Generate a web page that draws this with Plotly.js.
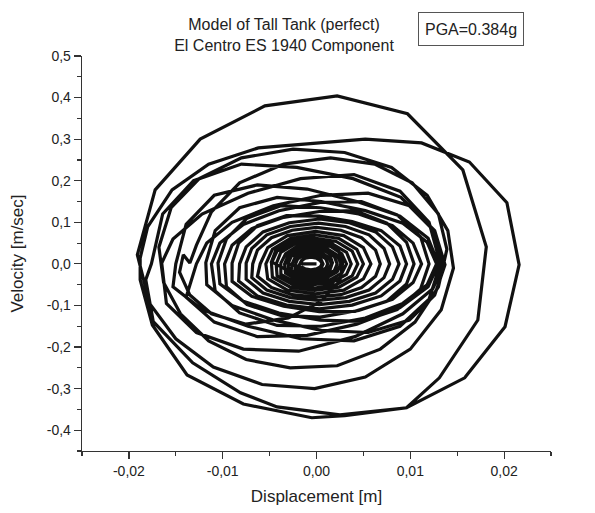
<!DOCTYPE html>
<html><head><meta charset="utf-8">
<script src="https://cdn.plot.ly/plotly-3.0.1.min.js"></script>
<style>html,body{margin:0;padding:0;background:#fff}#chart{width:595px;height:513px}</style>
</head><body><div id="chart"></div>
<script>
// Growth of the response (small loops around the origin)
const g1_d = [0.0000, -0.0017, -0.0015, -0.0011, -0.0005, 0.0001, 0.0005, 0.0007, 0.0005, 0.0001, -0.0005, -0.0011, -0.0015];
const g1_v = [0.000, 0.000, 0.010, 0.017, 0.020, 0.017, 0.010, 0.000, -0.010, -0.017, -0.020, -0.017, -0.010];
const g2_d = [-0.0033, -0.0030, -0.0021, -0.0008, 0.0005, 0.0014, 0.0017, 0.0014, 0.0005, -0.0008, -0.0021, -0.0030];
const g2_v = [0.003, 0.023, 0.038, 0.043, 0.038, 0.023, 0.003, -0.017, -0.032, -0.037, -0.032, -0.017];
const g3_d = [-0.0048, -0.0043, -0.0029, -0.0010, 0.0009, 0.0023, 0.0028, 0.0025, 0.0005, -0.0030, -0.0075, -0.0112, -0.0135, -0.0146, -0.0142, -0.0135, -0.0128];
const g3_v = [0.005, 0.035, 0.057, 0.065, 0.057, 0.035, 0.005, -0.040, -0.090, -0.130, -0.145, -0.120, -0.075, -0.020, 0.022, 0.002, 0.045];
// Large loops
const loopD_d = [-0.0112, -0.0082, -0.0035, 0.0015, 0.0062, 0.0102, 0.0130, 0.0139, 0.0130, 0.0105, 0.0068, 0.0022, -0.0028, -0.0075, -0.0115, -0.0145, -0.0163];
const loopD_v = [0.125, 0.195, 0.240, 0.255, 0.240, 0.195, 0.120, 0.035, -0.055, -0.140, -0.205, -0.245, -0.250, -0.230, -0.185, -0.120, -0.045];
const loopC_d = [-0.0168, -0.0155, -0.0125, -0.0080, -0.0025, 0.0030, 0.0080, 0.0118, 0.0140, 0.0146, 0.0133, 0.0100, 0.0052, -0.0002, -0.0058, -0.0110, -0.0150, -0.0178];
const loopC_v = [0.040, 0.135, 0.205, 0.255, 0.276, 0.268, 0.232, 0.165, 0.080, -0.010, -0.110, -0.205, -0.272, -0.300, -0.290, -0.248, -0.180, -0.095];
const loopA_d = [-0.0191, -0.0172, -0.0124, -0.0055, 0.0022, 0.0097, 0.0156, 0.0181, 0.0172, 0.0131, 0.0096, 0.0030, -0.0005, -0.0078, -0.0138, -0.0175, -0.0188];
const loopA_v = [0.022, 0.178, 0.300, 0.380, 0.404, 0.361, 0.226, 0.041, -0.135, -0.274, -0.346, -0.365, -0.370, -0.337, -0.267, -0.147, -0.038];
const loopB_d = [-0.0188, -0.0180, -0.0154, -0.0115, -0.0062, 0.0052, 0.0112, 0.0163, 0.0203, 0.0216, 0.0201, 0.0158, 0.0096, 0.0025, -0.0042, -0.0081, -0.0132, -0.0174, -0.0182];
const loopB_v = [0.014, 0.089, 0.178, 0.240, 0.279, 0.300, 0.291, 0.245, 0.147, -0.002, -0.151, -0.274, -0.346, -0.363, -0.344, -0.310, -0.238, -0.139, -0.038];
// Decaying rings
const e1_d = [-0.0176, -0.0164, -0.0131, -0.0080, -0.0021, 0.0039, 0.0090, 0.0123, 0.0135, 0.0124, 0.0092, 0.0041, -0.0019, -0.0078, -0.0128, -0.0160];
const e1_v = [0.000, 0.120, 0.200, 0.240, 0.232, 0.205, 0.160, 0.085, -0.004, -0.060, -0.120, -0.175, -0.210, -0.205, -0.165, -0.095];
const e2_d = [-0.0165, -0.0153, -0.0122, -0.0073, -0.0017, 0.0040, 0.0089, 0.0120, 0.0132, 0.0120, 0.0089, 0.0040, -0.0017, -0.0073, -0.0122, -0.0153];
const e2_v = [0.002, 0.060, 0.120, 0.170, 0.205, 0.215, 0.175, 0.100, 0.000, -0.085, -0.150, -0.185, -0.180, -0.150, -0.110, -0.055];
const e3_d = [-0.0150, -0.0139, -0.0109, -0.0063, -0.0010, 0.0043, 0.0089, 0.0119, 0.0130, 0.0119, 0.0089, 0.0043, -0.0010, -0.0063, -0.0109, -0.0139];
const e3_v = [0.000, 0.095, 0.165, 0.190, 0.180, 0.150, 0.115, 0.062, 0.000, -0.055, -0.105, -0.145, -0.172, -0.175, -0.140, -0.080];
const e4_d = [-0.0128, -0.0117, -0.0090, -0.0046, 0.0005, 0.0055, 0.0099, 0.0126, 0.0137, 0.0126, 0.0099, 0.0055, 0.0005, -0.0046, -0.0090, -0.0117];
const e4_v = [0.000, 0.050, 0.100, 0.140, 0.165, 0.170, 0.140, 0.080, -0.002, -0.075, -0.135, -0.165, -0.160, -0.135, -0.100, -0.050];
const e5_d = [-0.0118, -0.0108, -0.0082, -0.0042, 0.0005, 0.0052, 0.0092, 0.0118, 0.0128, 0.0118, 0.0092, 0.0052, 0.0005, -0.0042, -0.0082, -0.0108];
const e5_v = [0.003, 0.080, 0.135, 0.160, 0.150, 0.128, 0.098, 0.052, 0.000, -0.050, -0.095, -0.130, -0.150, -0.148, -0.118, -0.065];
const e6_d = [-0.0112, -0.0103, -0.0078, -0.0040, 0.0004, 0.0048, 0.0086, 0.0111, 0.0120, 0.0111, 0.0086, 0.0048, 0.0004, -0.0040, -0.0078, -0.0103];
const e6_v = [0.000, 0.050, 0.095, 0.128, 0.148, 0.150, 0.118, 0.065, 0.000, -0.060, -0.110, -0.138, -0.135, -0.118, -0.090, -0.048];
const e7_d = [-0.0105, -0.0096, -0.0074, -0.0038, 0.0004, 0.0045, 0.0081, 0.0103, 0.0112, 0.0103, 0.0081, 0.0045, 0.0004, -0.0038, -0.0074, -0.0096];
const e7_v = [0.002, 0.060, 0.110, 0.140, 0.135, 0.120, 0.092, 0.050, 0.000, -0.045, -0.085, -0.112, -0.128, -0.124, -0.098, -0.055];
const e8_d = [-0.0098, -0.0090, -0.0069, -0.0035, 0.0003, 0.0041, 0.0075, 0.0096, 0.0104, 0.0096, 0.0075, 0.0041, 0.0003, -0.0035, -0.0069, -0.0090];
const e8_v = [0.000, 0.045, 0.085, 0.112, 0.126, 0.128, 0.098, 0.052, 0.000, -0.048, -0.090, -0.114, -0.115, -0.102, -0.078, -0.042];
const e9_d = [-0.0090, -0.0083, -0.0063, -0.0032, 0.0003, 0.0038, 0.0069, 0.0089, 0.0096, 0.0089, 0.0069, 0.0038, 0.0003, -0.0032, -0.0063, -0.0083];
const e9_v = [0.002, 0.050, 0.092, 0.116, 0.115, 0.102, 0.080, 0.043, 0.000, -0.041, -0.077, -0.099, -0.108, -0.099, -0.077, -0.041];
const e10_d = [-0.0082, -0.0075, -0.0057, -0.0029, 0.0003, 0.0035, 0.0063, 0.0081, 0.0088, 0.0081, 0.0063, 0.0035, 0.0003, -0.0029, -0.0057, -0.0075];
const e10_v = [0.000, 0.041, 0.077, 0.099, 0.108, 0.099, 0.077, 0.041, 0.000, -0.037, -0.070, -0.090, -0.098, -0.090, -0.070, -0.037];
const e11_d = [-0.0075, -0.0069, -0.0053, -0.0028, 0.0002, 0.0031, 0.0056, 0.0072, 0.0078, 0.0072, 0.0056, 0.0031, 0.0002, -0.0028, -0.0053, -0.0069];
const e11_v = [0.002, 0.037, 0.070, 0.090, 0.098, 0.090, 0.070, 0.037, 0.000, -0.033, -0.063, -0.081, -0.088, -0.081, -0.063, -0.033];
const e12_d = [-0.0068, -0.0063, -0.0048, -0.0026, 0.0000, 0.0026, 0.0048, 0.0063, 0.0068, 0.0063, 0.0048, 0.0026, 0.0000, -0.0026, -0.0048, -0.0063];
const e12_v = [0.000, 0.033, 0.063, 0.081, 0.088, 0.081, 0.063, 0.033, 0.000, -0.030, -0.057, -0.074, -0.080, -0.074, -0.057, -0.030];
// Dense core near the origin
const c1_d = [-0.0060, -0.0052, -0.0031, -0.0001, 0.0029, 0.0050, 0.0058, 0.0050, 0.0029, -0.0001, -0.0031, -0.0052];
const c1_v = [0.000, 0.039, 0.068, 0.078, 0.068, 0.039, 0.000, -0.036, -0.063, -0.072, -0.063, -0.036];
const c2_d = [-0.0054, -0.0047, -0.0028, -0.0002, 0.0024, 0.0043, 0.0050, 0.0043, 0.0024, -0.0002, -0.0028, -0.0047];
const c2_v = [0.000, 0.035, 0.061, 0.070, 0.061, 0.035, 0.000, -0.032, -0.056, -0.064, -0.056, -0.032];
const c3_d = [-0.0048, -0.0042, -0.0025, -0.0002, 0.0021, 0.0038, 0.0044, 0.0038, 0.0021, -0.0002, -0.0025, -0.0042];
const c3_v = [0.002, 0.031, 0.054, 0.062, 0.054, 0.031, 0.000, -0.029, -0.050, -0.058, -0.050, -0.029];
const c4_d = [-0.0043, -0.0038, -0.0023, -0.0003, 0.0017, 0.0032, 0.0037, 0.0032, 0.0017, -0.0003, -0.0023, -0.0038];
const c4_v = [0.000, 0.028, 0.048, 0.055, 0.048, 0.028, 0.000, -0.025, -0.044, -0.050, -0.044, -0.025];
const c5_d = [-0.0038, -0.0033, -0.0021, -0.0003, 0.0015, 0.0027, 0.0032, 0.0027, 0.0015, -0.0003, -0.0021, -0.0033];
const c5_v = [0.002, 0.024, 0.042, 0.048, 0.042, 0.024, 0.000, -0.022, -0.038, -0.044, -0.038, -0.022];
const c6_d = [-0.0034, -0.0030, -0.0019, -0.0004, 0.0011, 0.0022, 0.0026, 0.0022, 0.0011, -0.0004, -0.0019, -0.0030];
const c6_v = [0.000, 0.021, 0.037, 0.042, 0.037, 0.021, 0.000, -0.019, -0.033, -0.038, -0.033, -0.019];
const c7_d = [-0.0030, -0.0027, -0.0017, -0.0004, 0.0009, 0.0019, 0.0022, 0.0019, 0.0009, -0.0004, -0.0017, -0.0027];
const c7_v = [0.002, 0.018, 0.031, 0.036, 0.031, 0.018, 0.000, -0.016, -0.028, -0.032, -0.028, -0.016];
const c8_d = [-0.0026, -0.0023, -0.0016, -0.0005, 0.0006, 0.0013, 0.0016, 0.0013, 0.0006, -0.0005, -0.0016, -0.0023];
const c8_v = [0.000, 0.015, 0.026, 0.030, 0.026, 0.015, 0.000, -0.013, -0.023, -0.026, -0.023, -0.013];
const c9_d = [-0.0022, -0.0020, -0.0014, -0.0005, 0.0004, 0.0010, 0.0012, 0.0010, 0.0004, -0.0005, -0.0014, -0.0020];
const c9_v = [0.002, 0.012, 0.021, 0.024, 0.021, 0.012, 0.000, -0.010, -0.017, -0.020, -0.017, -0.010];
const c10_d = [-0.0018, -0.0016, -0.0012, -0.0006, 0.0000, 0.0004, 0.0006, 0.0004, 0.0000, -0.0006, -0.0012, -0.0016];
const c10_v = [0.000, 0.008, 0.014, 0.016, 0.014, 0.008, 0.000, -0.007, -0.012, -0.014, -0.012, -0.007];

// Axis ticks
const xTickVals = [-0.02, -0.01, 0, 0.01, 0.02];
const xTickText = ['-0,02', '-0,01', '0,00', '0,01', '0,02'];
const yTickVals = [-0.4, -0.3, -0.2, -0.1, 0, 0.1, 0.2, 0.3, 0.4, 0.5];
const yTickText = ['-0,4', '-0,3', '-0,2', '-0,1', '0,0', '0,1', '0,2', '0,3', '0,4', '0,5'];

const dispParts = [g1_d, g2_d, g3_d, loopD_d, loopC_d, loopA_d, loopB_d, e1_d, e2_d, e3_d, e4_d, e5_d, e6_d, e7_d, e8_d, e9_d, e10_d, e11_d, e12_d, c1_d, c2_d, c3_d, c4_d, c5_d, c6_d, c7_d, c8_d, c9_d, c10_d];
const velParts = [g1_v, g2_v, g3_v, loopD_v, loopC_v, loopA_v, loopB_v, e1_v, e2_v, e3_v, e4_v, e5_v, e6_v, e7_v, e8_v, e9_v, e10_v, e11_v, e12_v, c1_v, c2_v, c3_v, c4_v, c5_v, c6_v, c7_v, c8_v, c9_v, c10_v];
const disp = [].concat(...dispParts);
const vel = [].concat(...velParts);

const FONT = '"Liberation Sans", Arial, Helvetica, sans-serif';
const axisCol = '#333';

const layout = {
  width: 595, height: 513,
  margin: {l: 82, r: 44, t: 56, b: 62},
  paper_bgcolor: '#fff', plot_bgcolor: '#fff',
  font: {family: FONT, color: '#222', size: 14},
  showlegend: false,
  title: {
    text: 'Model of Tall Tank (perfect)<br>El Centro ES 1940 Component',
    font: {family: FONT, size: 16, color: '#222'},
    x: 284 / 595, xref: 'container', xanchor: 'center',
    y: 1 - 30 / 513, yref: 'container', yanchor: 'middle'
  },
  xaxis: {
    range: [-0.025, 0.025], tickmode: 'array', tickvals: xTickVals, ticktext: xTickText,
    ticks: 'outside', ticklen: 7, tickwidth: 1.2, tickcolor: axisCol,
    showline: true, linecolor: axisCol, linewidth: 1.3, mirror: false,
    showgrid: false, zeroline: false,
    minor: {tickmode: 'linear', tick0: 0, dtick: 0.005, ticks: 'outside', ticklen: 4, tickwidth: 1.2, tickcolor: axisCol, showgrid: false},
    tickfont: {family: FONT, size: 14, color: '#222'},
    title: {text: 'Displacement [m]', font: {family: FONT, size: 17, color: '#222'}, standoff: 12}
  },
  yaxis: {
    range: [-0.45, 0.5], tickmode: 'array', tickvals: yTickVals, ticktext: yTickText,
    ticks: 'outside', ticklen: 7, tickwidth: 1.2, tickcolor: axisCol,
    showline: true, linecolor: axisCol, linewidth: 1.3, mirror: false,
    showgrid: false, zeroline: false,
    minor: {tickmode: 'linear', tick0: 0, dtick: 0.05, ticks: 'outside', ticklen: 4, tickwidth: 1.2, tickcolor: axisCol, showgrid: false},
    tickfont: {family: FONT, size: 14, color: '#222'},
    title: {text: 'Velocity [m/sec]', font: {family: FONT, size: 17, color: '#222'}, standoff: 18}
  },
  annotations: [{
    text: 'PGA=0.384g', xref: 'paper', yref: 'paper', x: (471 - 82) / 469, y: (451 - 29) / 395,
    xanchor: 'center', yanchor: 'middle', showarrow: false,
    font: {family: FONT, size: 16, color: '#222'},
    bordercolor: '#555', borderwidth: 1, borderpad: 2, width: 100, height: 28, bgcolor: '#fff'
  }]
};

Plotly.newPlot('chart', [{
  x: disp, y: vel, type: 'scatter', mode: 'lines',
  line: {color: '#111', width: 3.2, shape: 'linear'},
  hoverinfo: 'skip', cliponaxis: true
}], layout, {staticPlot: true, displayModeBar: false});
</script>
</body></html>
